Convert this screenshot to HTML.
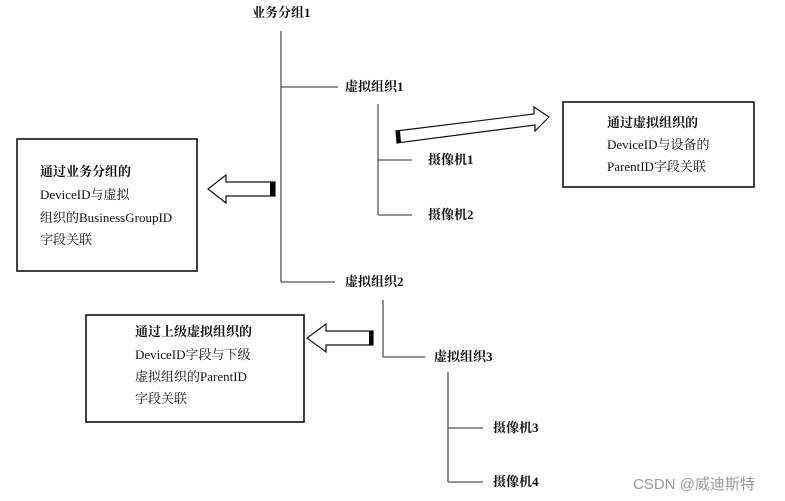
<!DOCTYPE html>
<html><head><meta charset="utf-8"><style>
html,body{margin:0;padding:0;background:#fff;}
svg{display:block;}
text{font-family:"Liberation Serif","Noto Serif CJK SC",serif;font-size:13px;fill:#111;}
.b{font-weight:bold;}
</style></head><body>
<svg width="785" height="501" viewBox="0 0 785 501" xmlns="http://www.w3.org/2000/svg">
<g stroke="#555" stroke-width="1.3" fill="none">
<path d="M281 31V282M281 87H338M281 282H335"/>
<path d="M378 104V215M378 160H412M378 215H412"/>
<path d="M383 300V357H425"/>
<path d="M448 372V482M448 428H483M448 482H483"/>
</g>
<g fill="none" stroke="#111" stroke-width="1.6">
<rect x="563" y="102" width="191" height="85"/>
<rect x="17" y="139" width="180" height="132"/>
<rect x="86" y="315" width="218" height="107"/>
</g>
<g fill="#fff" stroke="#111" stroke-width="1.2">
<polygon points="396,131 534,114 534,107 549,117 535,131 535,125 397,143"/>
<polygon points="275,182 226,182 226,175 208,189 226,203 226,196 275,196"/>
<polygon points="373,331 326,331 326,324 307,338 326,352 326,345 373,345"/>
</g>
<g fill="#000">
<polygon points="396,131 400,131 401,142 397,143"/>
<rect x="270" y="182" width="5" height="14"/>
<rect x="369" y="331" width="4" height="14"/>
</g>
<g class="b" dominant-baseline="middle">
<text x="252" y="14">业务分组1</text>
<text x="345" y="88">虚拟组织1</text>
<text x="428" y="161">摄像机1</text>
<text x="428" y="216">摄像机2</text>
<text x="345" y="283">虚拟组织2</text>
<text x="434" y="358">虚拟组织3</text>
<text x="493" y="429">摄像机3</text>
<text x="493" y="483">摄像机4</text>
</g>
<g dominant-baseline="middle">
<text x="607" y="124" class="b">通过虚拟组织的</text>
<text x="607" y="146">DeviceID与设备的</text>
<text x="607" y="168">ParentID字段关联</text>
<text x="40" y="173" class="b">通过业务分组的</text>
<text x="40" y="196">DeviceID与虚拟</text>
<text x="40" y="219">组织的BusinessGroupID</text>
<text x="40" y="241">字段关联</text>
<text x="135" y="333" class="b">通过上级虚拟组织的</text>
<text x="135" y="356">DeviceID字段与下级</text>
<text x="135" y="378">虚拟组织的ParentID</text>
<text x="135" y="400">字段关联</text>
</g>
<text x="633" y="489" style="font-family:'Liberation Sans','Noto Sans CJK SC',sans-serif;font-size:15px;fill:#999;">CSDN @威迪斯特</text>
</svg>
</body></html>
